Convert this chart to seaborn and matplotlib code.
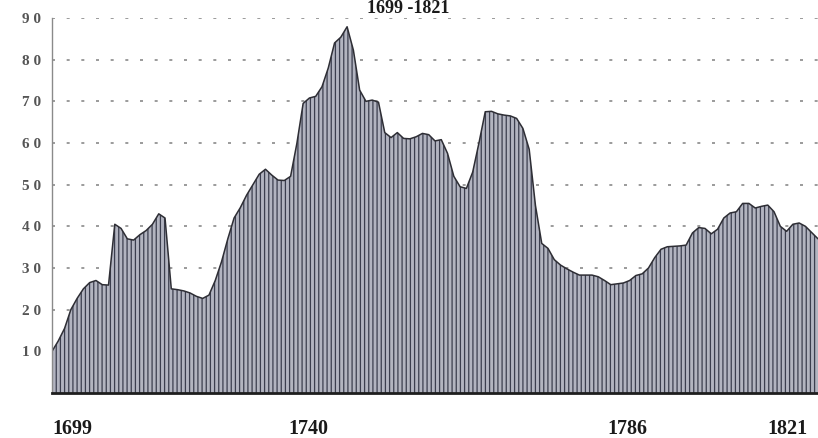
import numpy as np
import pandas as pd
import matplotlib
matplotlib.use("Agg")
import matplotlib.pyplot as plt
import seaborn as sns

# ---- data ----
years = list(range(1699, 1822))
values = [
    10, 12.5, 15.5, 20, 22.7, 25, 26.5, 27, 26, 25.9,            # 1699-1708
    40.5, 39.5, 37, 36.7, 38, 39, 40.5, 43, 42, 25,              # 1709-1718
    24.8, 24.5, 24, 23.2, 22.7, 23.5, 27, 31.5, 37, 42,          # 1719-1728
    44.5, 47.5, 50, 52.5, 53.7, 52.3, 51.1, 51, 52, 59.9,        # 1729-1738
    69.5, 70.8, 71.2, 73.5, 78, 84, 85.4, 87.9, 82.3, 72.7,      # 1739-1748
    70, 70.3, 69.8, 62.5, 61.3, 62.5, 61.1, 61, 61.5, 62.3,      # 1749-1758
    62, 60.5, 60.8, 57.5, 52, 49.5, 49.1, 53, 60, 67.5,          # 1759-1768
    67.6, 67, 66.7, 66.5, 65.9, 63.5, 58.5, 45, 35.9, 34.7,      # 1769-1778
    32, 30.7, 29.8, 29, 28.3, 28.3, 28.3, 27.9, 27, 26,          # 1779-1788
    26.2, 26.4, 27, 28.2, 28.6, 30, 32.5, 34.5, 35.1, 35.2,      # 1789-1798
    35.3, 35.5, 38.4, 39.7, 39.5, 38.2, 39.3, 42, 43.2, 43.5,    # 1799-1808
    45.5, 45.5, 44.4, 44.8, 45.1, 43.5, 40, 38.8, 40.5, 40.8,    # 1809-1818
    40, 38.5, 37,                                                # 1819-1821
]
title = "1699 -1821"
ytick_values = [10, 20, 30, 40, 50, 60, 70, 80, 90]
xtick_labels = ["1699", "1740", "1786", "1821"]

df = pd.DataFrame({"year": years, "value": values})

# ---- layout / style constants ----
xtick_positions = [1702.2, 1739.8, 1790.6, 1816.2]
fill_color = "#b2b4c0"
hatch_color = "#3b3e4e"
line_color = "#2e2e35"

sns.set_style("white")
plt.rcParams["hatch.linewidth"] = 0.9
plt.rcParams["font.family"] = ["Liberation Serif", "DejaVu Serif"]

fig = plt.figure(figsize=(8.18, 4.38), dpi=100)
ax = fig.add_axes([52 / 818, 1 - 393 / 438, 1 - 52 / 818, (393 - 18) / 438])

# dotted gridlines behind the area
for v in ytick_values:
    ax.axhline(v, color="#8a8a8a", lw=1.2, dashes=(1.8, 7.0), zorder=0)

# hatched area
ax.fill_between(df["year"], 0, df["value"], facecolor=fill_color,
                edgecolor=hatch_color, hatch="||||", linewidth=0, zorder=1)
sns.lineplot(data=df, x="year", y="value", ax=ax, color=line_color,
             lw=1.1, zorder=2)

ax.set_xlim(1699, 1821)
ax.set_ylim(0, 90)

ax.set_yticks(ytick_values)
ax.set_yticklabels([" ".join(str(v)) for v in ytick_values],
                   fontsize=11, color="#555555", fontweight="bold")
ax.set_xticks(xtick_positions)
ax.set_xticklabels(xtick_labels, fontsize=14.5, fontweight="bold",
                   color="#1a1a1a")
ax.tick_params(axis="y", length=0, pad=8)
ax.tick_params(axis="x", length=0, pad=19)
ax.set_xlabel("")
ax.set_ylabel("")

for s in ["top", "right"]:
    ax.spines[s].set_visible(False)
ax.spines["left"].set_color("#8a8a8a")
ax.spines["left"].set_linewidth(1.0)
ax.spines["bottom"].set_color("#1e1e1e")
ax.spines["bottom"].set_linewidth(2.0)
ax.spines["bottom"].set_zorder(3)

fig.text(408 / 818, 1.0, title, ha="center", va="top",
         fontsize=13, fontweight="bold", color="#1a1a1a")

fig.savefig("out.png", dpi=100)
